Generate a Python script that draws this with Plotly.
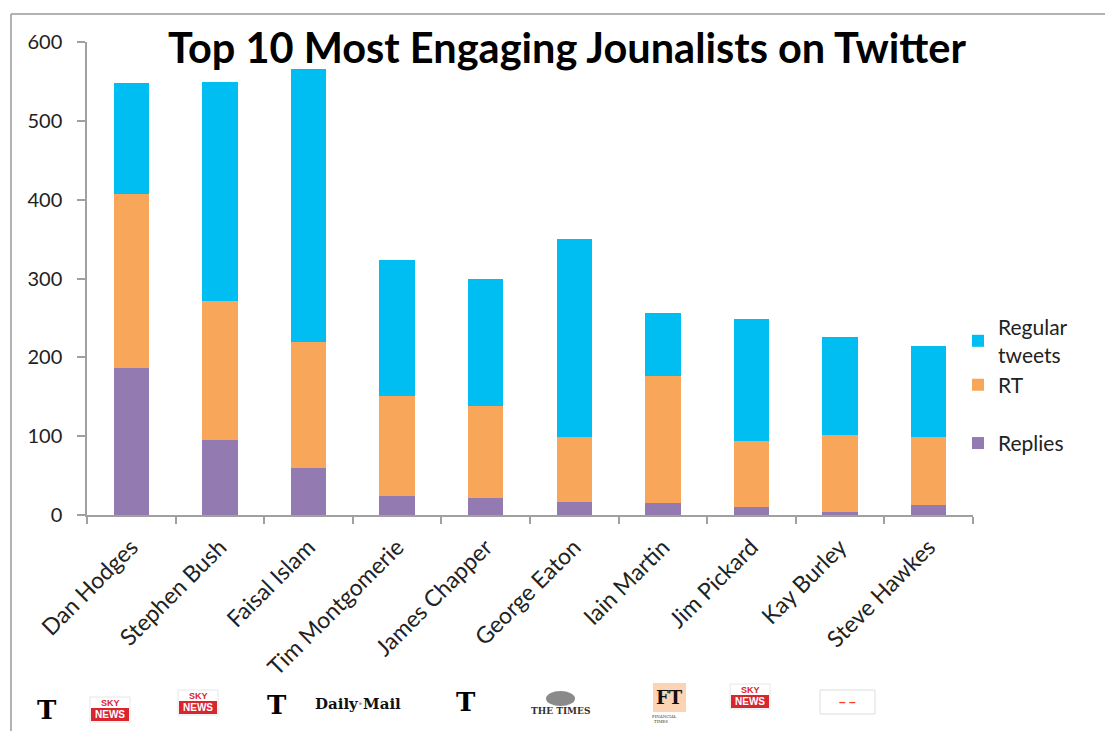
import plotly.graph_objects as go

# Engagement breakdown per journalist
journalists = [
    "Dan Hodges", "Stephen Bush", "Faisal Islam", "Tim Montgomerie",
    "James Chapper", "George Eaton", "Iain Martin", "Jim Pickard",
    "Kay Burley", "Steve Hawkes",
]
replies = [186, 95, 60, 24, 21, 17, 15, 10, 4, 13]
retweets = [221, 176, 159, 127, 117, 82, 161, 84, 97, 86]
regular_tweets = [141, 278, 347, 172, 161, 251, 80, 155, 125, 116]

y_ticks = [0, 100, 200, 300, 400, 500, 600]

W, H = 1105, 731
M_L, M_R, M_T, M_B = 87, 132, 42, 216
PW, PH = W - M_L - M_R, H - M_T - M_B

FONT = "Lato"
TEXT = "#222222"
AXIS = "#a0a0a0"


def px(x):
    return (x - M_L) / PW


def py(y):
    return (H - M_B - y) / PH


fig = go.Figure()
fig.add_trace(go.Bar(x=journalists, y=replies, name="Replies",
                     marker_color="#937ab1", legendgroup="b", legendrank=3))
fig.add_trace(go.Bar(x=journalists, y=retweets, name="RT",
                     marker_color="#f8a65a", legendgroup="a", legendrank=2))
fig.add_trace(go.Bar(x=journalists, y=regular_tweets, name="Regular<br>tweets",
                     marker_color="#00bef2", legendgroup="a", legendrank=1))

fig.update_traces(marker_line_width=0, width=0.4)

shapes = [
    # outer frame (top and left edges)
    dict(type="line", xref="paper", yref="paper", x0=px(11), x1=px(1105),
         y0=py(14), y1=py(14), line=dict(color="#9a9a9a", width=1.5)),
    dict(type="line", xref="paper", yref="paper", x0=px(11), x1=px(11),
         y0=py(14), y1=py(731), line=dict(color="#9a9a9a", width=1.5)),
]
annotations = []


def text(x, y, s, size, color="#111111", family="DejaVu Serif", bold=True):
    annotations.append(dict(
        xref="paper", yref="paper", x=px(x), y=py(y), text=("<b>%s</b>" % s) if bold else s,
        showarrow=False, xanchor="center", yanchor="middle",
        font=dict(family=family, size=size, color=color)))


def rect(x0, y0, x1, y1, fill, line=None):
    shapes.append(dict(type="rect", xref="paper", yref="paper",
                       x0=px(x0), x1=px(x1), y0=py(y1), y1=py(y0),
                       fillcolor=fill, line=dict(color=line or fill, width=1 if line else 0)))


def sky(x0, y0):
    rect(x0, y0, x0 + 40, y0 + 25, "#ffffff", "#e6e6e6")
    rect(x0 + 1, y0 + 11, x0 + 39, y0 + 24, "#d8252e")
    text(x0 + 20, y0 + 6, "SKY", 9, "#d8252e", "Liberation Sans")
    text(x0 + 20, y0 + 17.5, "NEWS", 10, "#ffffff", "Liberation Sans")


# publication marks along the bottom
text(47, 710, "T", 26, "#000000", "DejaVu Serif")
sky(90, 697)
sky(178, 690)
text(277, 705, "T", 26, "#000000", "DejaVu Serif")
text(358, 704, "Daily<span style='color:#999'>·</span>Mail", 15, "#111111", "DejaVu Serif")
text(466, 702, "T", 26, "#000000", "DejaVu Serif")
shapes.append(dict(type="circle", xref="paper", yref="paper",
                   x0=px(546), x1=px(575), y0=py(706), y1=py(691),
                   fillcolor="#8a8a8a", line=dict(width=0)))
text(560, 711, "THE TIMES", 9, "#333333", "DejaVu Serif")
rect(653, 683, 686, 712, "#fcd4b3")
text(669, 697, "FT", 18, "#111111", "DejaVu Serif")
text(664, 716, "FINANCIAL", 4, "#333333", "DejaVu Serif", bold=False)
text(661, 721, "TIMES", 4, "#333333", "DejaVu Serif", bold=False)
sky(730, 684)
rect(820, 690, 875, 714, "#ffffff", "#dddddd")
text(847, 702, "– –", 12, "#ff3b1f", "Liberation Sans")

fig.update_layout(
    width=W, height=H,
    margin=dict(l=M_L, r=M_R, t=M_T, b=M_B, autoexpand=False),
    paper_bgcolor="white", plot_bgcolor="white",
    barmode="stack",
    bargap=0.6,
    font=dict(family=FONT, size=20, color=TEXT),
    title=dict(text="<b>Top 10 Most Engaging Jounalists on Twitter</b>",
               x=567 / W, xanchor="center", y=1 - 48 / H, yanchor="middle",
               font=dict(family=FONT, size=41.5, color="#000000")),
    xaxis=dict(
        range=[-0.5, 9.5], showline=True, linecolor=AXIS, linewidth=1.5,
        ticks="outside", tickson="boundaries", ticklen=7, tickcolor=AXIS, tickwidth=1.5,
        tickangle=-45, showgrid=False, zeroline=False, ticklabelstandoff=8,
        tickfont=dict(family=FONT, size=23, color=TEXT),
    ),
    yaxis=dict(
        range=[0, 600], tickvals=y_ticks, showline=True, linecolor=AXIS, linewidth=1.5,
        ticks="outside", ticklen=8, tickcolor=AXIS, tickwidth=1.5,
        showgrid=False, zeroline=False, ticklabelstandoff=11,
        tickfont=dict(family=FONT, size=20, color=TEXT),
    ),
    legend=dict(
        x=px(958), xanchor="left", y=py(307), yanchor="top",
        traceorder="grouped", tracegroupgap=28,
        font=dict(family=FONT, size=21, color=TEXT),
        bgcolor="rgba(0,0,0,0)",
    ),
    shapes=shapes,
    annotations=annotations,
)

fig.write_html("out.html")
